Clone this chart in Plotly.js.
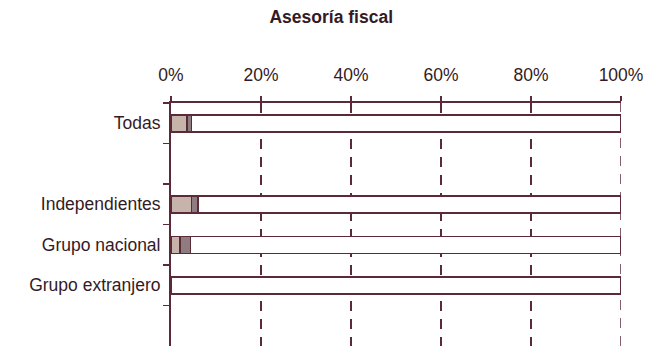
<!DOCTYPE html>
<html><head><meta charset="utf-8">
<script src="https://cdn.plot.ly/plotly-3.0.1.min.js"></script>
<style>body{margin:0;background:#fff}#c{width:647px;height:346px}</style>
</head><body><div id="c"></div>
<script>
const categories = ["Todas", " ", "Independientes", "Grupo nacional", "Grupo extranjero", "  "];
const seg1 = [3.5, null, 4.5, 2.0, 0, null];
const seg2 = [1.0, null, 1.5, 2.3, 0, null];
const seg3 = [95.5, null, 94.0, 95.7, 100, null];
const xTicks = [0, 20, 40, 60, 80, 100];
const xTickText = ["0%", "20%", "40%", "60%", "80%", "100%"];

const lineCol = "#5b2a38";
const textCol = "#341a24";
function bar(vals, color, name) {
  return {type: "bar", orientation: "h", y: categories, x: vals, name: name,
    width: 0.42, marker: {color: color, line: {color: lineCol, width: 1.5}},
    hoverinfo: "skip", showlegend: false};
}
const data = [
  bar(seg1, "#c6b4aa", "s1"),
  bar(seg2, "#8e7c80", "s2"),
  bar(seg3, "#ffffff", "s3"),
  {type: "scatter", x: [0, 100], y: [categories[0], categories[0]], xaxis: "x2", mode: "none", showlegend: false, hoverinfo: "skip"}
];
const layout = {
  width: 647, height: 346,
  margin: {l: 171, r: 26, t: 103, b: 0},
  paper_bgcolor: "#fff", plot_bgcolor: "#fff",
  barmode: "stack",
  font: {family: "Liberation Sans, Arial, sans-serif", size: 17.5, color: textCol},
  title: {text: "<b>Asesoría fiscal</b>", x: 0.512, xref: "container", y: 0.95, yanchor: "middle",
    font: {size: 17.5, color: textCol}},
  xaxis: {range: [0, 100], side: "top", tickvals: xTicks, ticktext: xTickText,
    ticks: "outside", ticklen: 5, tickwidth: 1.5, tickcolor: lineCol,
    showline: true, linecolor: lineCol, linewidth: 2,
    showgrid: true, gridcolor: lineCol, gridwidth: 1.5, griddash: "10px,8px",
    zeroline: false, ticklabelstandoff: 8, fixedrange: true},
  xaxis2: {range: [0, 100], overlaying: "x", side: "top", tickvals: xTicks,
    ticks: "inside", ticklen: 5, tickwidth: 1.5, tickcolor: lineCol,
    showticklabels: false, showgrid: false, zeroline: false, showline: false, fixedrange: true},
  yaxis: {type: "category", categoryorder: "array", categoryarray: categories,
    range: [5.5, -0.5], tickson: "boundaries", ticks: "outside", ticklen: 6,
    tickwidth: 1.5, tickcolor: lineCol, showline: true, linecolor: lineCol, linewidth: 2,
    showgrid: false, zeroline: false, fixedrange: true, ticklabelstandoff: 5},
  shapes: [{type: "line", xref: "x", yref: "paper", x0: xTicks[5], x1: xTicks[5], y0: 0, y1: 1,
    line: {color: lineCol, width: 1.5, dash: "10px,8px"}, layer: "below"}]
};
Plotly.newPlot("c", data, layout, {staticPlot: true, displayModeBar: false});
</script></body></html>
